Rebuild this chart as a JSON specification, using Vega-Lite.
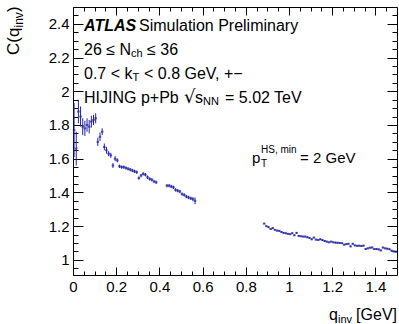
{
  "$schema": "https://vega.github.io/schema/vega-lite/v6.json",
  "width": 324,
  "height": 268,
  "autosize": {"type": "none"},
  "padding": {"left": 73, "top": 7, "right": 2, "bottom": 49},
  "background": "white",
  "datasets": {
    "pts": [
      {"q": 0.005, "c": 1.77, "e": 0.16},
      {"q": 0.015, "c": 1.66, "e": 0.1},
      {"q": 0.025, "c": 1.88, "e": 0.07},
      {"q": 0.035, "c": 1.85, "e": 0.06},
      {"q": 0.045, "c": 1.79, "e": 0.05},
      {"q": 0.055, "c": 1.78, "e": 0.045},
      {"q": 0.065, "c": 1.8, "e": 0.04},
      {"q": 0.075, "c": 1.79, "e": 0.04},
      {"q": 0.085, "c": 1.82, "e": 0.035},
      {"q": 0.095, "c": 1.83, "e": 0.03},
      {"q": 0.105, "c": 1.84, "e": 0.03},
      {"q": 0.115, "c": 1.7, "e": 0.025},
      {"q": 0.125, "c": 1.73, "e": 0.025},
      {"q": 0.135, "c": 1.76, "e": 0.02},
      {"q": 0.145, "c": 1.67, "e": 0.02},
      {"q": 0.155, "c": 1.65, "e": 0.02},
      {"q": 0.165, "c": 1.63, "e": 0.015},
      {"q": 0.175, "c": 1.62, "e": 0.015},
      {"q": 0.185, "c": 1.56, "e": 0.015},
      {"q": 0.195, "c": 1.6, "e": 0.015},
      {"q": 0.205, "c": 1.59, "e": 0.012},
      {"q": 0.215, "c": 1.555, "e": 0.01},
      {"q": 0.225, "c": 1.55, "e": 0.01},
      {"q": 0.235, "c": 1.55, "e": 0.01},
      {"q": 0.245, "c": 1.545, "e": 0.01},
      {"q": 0.255, "c": 1.54, "e": 0.01},
      {"q": 0.265, "c": 1.535, "e": 0.01},
      {"q": 0.275, "c": 1.53, "e": 0.01},
      {"q": 0.285, "c": 1.525, "e": 0.01},
      {"q": 0.295, "c": 1.52, "e": 0.01},
      {"q": 0.305, "c": 1.485, "e": 0.01},
      {"q": 0.315, "c": 1.5, "e": 0.01},
      {"q": 0.325, "c": 1.51, "e": 0.01},
      {"q": 0.335, "c": 1.505, "e": 0.01},
      {"q": 0.345, "c": 1.49, "e": 0.01},
      {"q": 0.355, "c": 1.48, "e": 0.01},
      {"q": 0.365, "c": 1.475, "e": 0.01},
      {"q": 0.375, "c": 1.465, "e": 0.01},
      {"q": 0.385, "c": 1.46, "e": 0.01},
      {"q": 0.435, "c": 1.44, "e": 0.01},
      {"q": 0.445, "c": 1.44, "e": 0.01},
      {"q": 0.455, "c": 1.435, "e": 0.01},
      {"q": 0.465, "c": 1.43, "e": 0.01},
      {"q": 0.475, "c": 1.415, "e": 0.01},
      {"q": 0.485, "c": 1.41, "e": 0.01},
      {"q": 0.495, "c": 1.405, "e": 0.01},
      {"q": 0.505, "c": 1.39, "e": 0.01},
      {"q": 0.515, "c": 1.385, "e": 0.01},
      {"q": 0.525, "c": 1.375, "e": 0.01},
      {"q": 0.535, "c": 1.37, "e": 0.01},
      {"q": 0.545, "c": 1.365, "e": 0.01},
      {"q": 0.555, "c": 1.36, "e": 0.012},
      {"q": 0.565, "c": 1.35, "e": 0.02},
      {"q": 0.885, "c": 1.215, "e": 0.005},
      {"q": 0.895, "c": 1.2, "e": 0.005},
      {"q": 0.905, "c": 1.194, "e": 0.005},
      {"q": 0.915, "c": 1.183, "e": 0.005},
      {"q": 0.925, "c": 1.188, "e": 0.005},
      {"q": 0.935, "c": 1.178, "e": 0.005},
      {"q": 0.945, "c": 1.173, "e": 0.005},
      {"q": 0.955, "c": 1.172, "e": 0.005},
      {"q": 0.965, "c": 1.165, "e": 0.005},
      {"q": 0.975, "c": 1.16, "e": 0.005},
      {"q": 0.985, "c": 1.158, "e": 0.005},
      {"q": 0.995, "c": 1.154, "e": 0.005},
      {"q": 1.005, "c": 1.152, "e": 0.005},
      {"q": 1.015, "c": 1.158, "e": 0.005},
      {"q": 1.025, "c": 1.146, "e": 0.005},
      {"q": 1.035, "c": 1.16, "e": 0.005},
      {"q": 1.045, "c": 1.142, "e": 0.005},
      {"q": 1.055, "c": 1.14, "e": 0.005},
      {"q": 1.065, "c": 1.138, "e": 0.005},
      {"q": 1.075, "c": 1.138, "e": 0.005},
      {"q": 1.085, "c": 1.134, "e": 0.005},
      {"q": 1.095, "c": 1.13, "e": 0.005},
      {"q": 1.105, "c": 1.122, "e": 0.005},
      {"q": 1.115, "c": 1.132, "e": 0.005},
      {"q": 1.125, "c": 1.12, "e": 0.005},
      {"q": 1.135, "c": 1.118, "e": 0.005},
      {"q": 1.145, "c": 1.122, "e": 0.005},
      {"q": 1.155, "c": 1.117, "e": 0.005},
      {"q": 1.165, "c": 1.112, "e": 0.005},
      {"q": 1.175, "c": 1.108, "e": 0.005},
      {"q": 1.185, "c": 1.104, "e": 0.005},
      {"q": 1.195, "c": 1.108, "e": 0.005},
      {"q": 1.205, "c": 1.104, "e": 0.005},
      {"q": 1.215, "c": 1.102, "e": 0.005},
      {"q": 1.225, "c": 1.101, "e": 0.005},
      {"q": 1.235, "c": 1.1, "e": 0.005},
      {"q": 1.245, "c": 1.099, "e": 0.005},
      {"q": 1.255, "c": 1.09, "e": 0.005},
      {"q": 1.265, "c": 1.093, "e": 0.005},
      {"q": 1.275, "c": 1.095, "e": 0.005},
      {"q": 1.285, "c": 1.08, "e": 0.005},
      {"q": 1.295, "c": 1.095, "e": 0.005},
      {"q": 1.305, "c": 1.086, "e": 0.005},
      {"q": 1.315, "c": 1.083, "e": 0.005},
      {"q": 1.325, "c": 1.084, "e": 0.005},
      {"q": 1.335, "c": 1.082, "e": 0.005},
      {"q": 1.345, "c": 1.084, "e": 0.005},
      {"q": 1.355, "c": 1.064, "e": 0.005},
      {"q": 1.365, "c": 1.068, "e": 0.005},
      {"q": 1.375, "c": 1.072, "e": 0.005},
      {"q": 1.385, "c": 1.073, "e": 0.005},
      {"q": 1.395, "c": 1.064, "e": 0.005},
      {"q": 1.405, "c": 1.064, "e": 0.005},
      {"q": 1.415, "c": 1.062, "e": 0.005},
      {"q": 1.425, "c": 1.056, "e": 0.005},
      {"q": 1.435, "c": 1.073, "e": 0.005},
      {"q": 1.445, "c": 1.068, "e": 0.005},
      {"q": 1.455, "c": 1.066, "e": 0.005},
      {"q": 1.465, "c": 1.063, "e": 0.005},
      {"q": 1.475, "c": 1.054, "e": 0.005},
      {"q": 1.485, "c": 1.05, "e": 0.005},
      {"q": 1.495, "c": 1.048, "e": 0.006}
    ]
  },
  "resolve": {"axis": {"x": "independent", "y": "independent"}},
  "layer": [
    {
      "data": {"name": "pts"},
      "mark": {"type": "errorbar", "ticks": false, "color": "#2323a8", "thickness": 1},
      "encoding": {
        "x": {"field": "q", "type": "quantitative", "scale": {"domain": [0, 1.5], "nice": false, "zero": false},
          "axis": {"orient": "bottom", "title": null, "values": [0, 0.2, 0.4, 0.6, 0.8, 1, 1.2, 1.4], "format": "~g", "tickSize": -8, "labelPadding": 12, "labelFlush": false, "domain": false, "grid": false}},
        "y": {"field": "c", "type": "quantitative", "scale": {"domain": [0.91, 2.5], "nice": false, "zero": false},
          "axis": {"orient": "left", "title": null, "values": [1, 1.2, 1.4, 1.6, 1.8, 2, 2.2, 2.4], "format": "~g", "tickSize": -10, "labelPadding": 14, "domain": false, "grid": false}},
        "yError": {"field": "e"}
      }
    },
    {
      "data": {"name": "pts"},
      "mark": {"type": "tick", "orient": "horizontal", "size": 2.6, "thickness": 2, "color": "#2323a8"},
      "encoding": {
        "x": {"field": "q", "type": "quantitative", "axis": null},
        "y": {"field": "c", "type": "quantitative", "axis": null}
      }
    },
    {
      "data": {"values": [{}]},
      "mark": {"type": "text", "text": "ATLAS", "align": "left", "baseline": "middle", "fontSize": 16, "fontWeight": "bold", "fontStyle": "italic", "font": "Liberation Sans", "color": "black"},
      "encoding": {
        "x": {"datum": 0.051, "type": "quantitative", "axis": {"orient": "bottom", "title": null, "values": [0.05, 0.1, 0.15, 0.25, 0.3, 0.35, 0.45, 0.5, 0.55, 0.65, 0.7, 0.75, 0.85, 0.9, 0.95, 1.05, 1.1, 1.15, 1.25, 1.3, 1.35, 1.45], "tickSize": -4, "labels": false, "domain": false, "grid": false}},
        "y": {"datum": 2.387, "type": "quantitative", "axis": {"orient": "left", "title": null, "values": [0.95, 1.05, 1.1, 1.15, 1.25, 1.3, 1.35, 1.45, 1.5, 1.55, 1.65, 1.7, 1.75, 1.85, 1.9, 1.95, 2.05, 2.1, 2.15, 2.25, 2.3, 2.35, 2.45], "tickSize": -5, "labels": false, "domain": false, "grid": false}}
      }
    },
    {
      "data": {"values": [{}]},
      "mark": {"type": "text", "text": "Simulation Preliminary", "align": "left", "baseline": "middle", "fontSize": 16, "font": "Liberation Sans", "color": "black", "dx": 55},
      "encoding": {
        "x": {"datum": 0.051, "type": "quantitative", "axis": {"orient": "top", "title": null, "values": [0, 0.2, 0.4, 0.6, 0.8, 1, 1.2, 1.4], "tickSize": -8, "labels": false, "domain": false, "grid": false}},
        "y": {"datum": 2.387, "type": "quantitative", "axis": {"orient": "right", "title": null, "values": [1, 1.2, 1.4, 1.6, 1.8, 2, 2.2, 2.4], "tickSize": -10, "labels": false, "domain": false, "grid": false}}
      }
    },
    {
      "data": {"values": [{}]},
      "mark": {"type": "text", "text": "26 ≤ N", "align": "left", "baseline": "middle", "fontSize": 16, "font": "Liberation Sans", "color": "black"},
      "encoding": {
        "x": {"datum": 0.051, "type": "quantitative", "axis": {"orient": "top", "title": null, "values": [0.05, 0.1, 0.15, 0.25, 0.3, 0.35, 0.45, 0.5, 0.55, 0.65, 0.7, 0.75, 0.85, 0.9, 0.95, 1.05, 1.1, 1.15, 1.25, 1.3, 1.35, 1.45], "tickSize": -4, "labels": false, "domain": false, "grid": false}},
        "y": {"datum": 2.245, "type": "quantitative", "axis": {"orient": "right", "title": null, "values": [0.95, 1.05, 1.1, 1.15, 1.25, 1.3, 1.35, 1.45, 1.5, 1.55, 1.65, 1.7, 1.75, 1.85, 1.9, 1.95, 2.05, 2.1, 2.15, 2.25, 2.3, 2.35, 2.45], "tickSize": -5, "labels": false, "domain": false, "grid": false}}
      }
    },
    {
      "data": {"values": [{}]},
      "mark": {"type": "text", "text": "ch", "align": "left", "baseline": "middle", "fontSize": 11, "font": "Liberation Sans", "color": "black", "dx": 47, "dy": 4},
      "encoding": {"x": {"datum": 0.051, "type": "quantitative", "axis": null}, "y": {"datum": 2.245, "type": "quantitative", "axis": null}}
    },
    {
      "data": {"values": [{}]},
      "mark": {"type": "text", "text": "≤ 36", "align": "left", "baseline": "middle", "fontSize": 16, "font": "Liberation Sans", "color": "black", "dx": 63},
      "encoding": {"x": {"datum": 0.051, "type": "quantitative", "axis": null}, "y": {"datum": 2.245, "type": "quantitative", "axis": null}}
    },
    {
      "data": {"values": [{}]},
      "mark": {"type": "text", "text": "0.7 < k", "align": "left", "baseline": "middle", "fontSize": 16, "font": "Liberation Sans", "color": "black"},
      "encoding": {"x": {"datum": 0.051, "type": "quantitative", "axis": null}, "y": {"datum": 2.1, "type": "quantitative", "axis": null}}
    },
    {
      "data": {"values": [{}]},
      "mark": {"type": "text", "text": "T", "align": "left", "baseline": "middle", "fontSize": 11, "font": "Liberation Sans", "color": "black", "dx": 48.5, "dy": 4},
      "encoding": {"x": {"datum": 0.051, "type": "quantitative", "axis": null}, "y": {"datum": 2.1, "type": "quantitative", "axis": null}}
    },
    {
      "data": {"values": [{}]},
      "mark": {"type": "text", "text": "< 0.8 GeV, +−", "align": "left", "baseline": "middle", "fontSize": 16, "font": "Liberation Sans", "color": "black", "dx": 60},
      "encoding": {"x": {"datum": 0.051, "type": "quantitative", "axis": null}, "y": {"datum": 2.1, "type": "quantitative", "axis": null}}
    },
    {
      "data": {"values": [{}]},
      "mark": {"type": "text", "text": "HIJING p+Pb", "align": "left", "baseline": "middle", "fontSize": 16, "font": "Liberation Sans", "color": "black"},
      "encoding": {"x": {"datum": 0.051, "type": "quantitative", "axis": null}, "y": {"datum": 1.96, "type": "quantitative", "axis": null}}
    },
    {
      "data": {"values": [{}]},
      "mark": {"type": "text", "text": "√", "align": "left", "baseline": "middle", "fontSize": 18, "font": "DejaVu Sans", "color": "black", "dx": 100},
      "encoding": {"x": {"datum": 0.051, "type": "quantitative", "axis": null}, "y": {"datum": 1.96, "type": "quantitative", "axis": null}}
    },
    {
      "data": {"values": [{}]},
      "mark": {"type": "text", "text": "s", "align": "left", "baseline": "middle", "fontSize": 16, "font": "Liberation Sans", "color": "black", "dx": 111},
      "encoding": {"x": {"datum": 0.051, "type": "quantitative", "axis": null}, "y": {"datum": 1.96, "type": "quantitative", "axis": null}}
    },
    {
      "data": {"values": [{}]},
      "mark": {"type": "text", "text": "NN", "align": "left", "baseline": "middle", "fontSize": 11, "font": "Liberation Sans", "color": "black", "dx": 119, "dy": 4},
      "encoding": {"x": {"datum": 0.051, "type": "quantitative", "axis": null}, "y": {"datum": 1.96, "type": "quantitative", "axis": null}}
    },
    {
      "data": {"values": [{}]},
      "mark": {"type": "text", "text": "= 5.02 TeV", "align": "left", "baseline": "middle", "fontSize": 16, "font": "Liberation Sans", "color": "black", "dx": 141},
      "encoding": {"x": {"datum": 0.051, "type": "quantitative", "axis": null}, "y": {"datum": 1.96, "type": "quantitative", "axis": null}}
    },
    {
      "data": {"values": [{}]},
      "mark": {"type": "text", "text": "p", "align": "left", "baseline": "middle", "fontSize": 15, "font": "Liberation Sans", "color": "black"},
      "encoding": {"x": {"datum": 0.829, "type": "quantitative", "axis": null}, "y": {"datum": 1.604, "type": "quantitative", "axis": null}}
    },
    {
      "data": {"values": [{}]},
      "mark": {"type": "text", "text": "HS, min", "align": "left", "baseline": "middle", "fontSize": 10, "font": "Liberation Sans", "color": "black", "dx": 9, "dy": -8},
      "encoding": {"x": {"datum": 0.829, "type": "quantitative", "axis": null}, "y": {"datum": 1.604, "type": "quantitative", "axis": null}}
    },
    {
      "data": {"values": [{}]},
      "mark": {"type": "text", "text": "T", "align": "left", "baseline": "middle", "fontSize": 10, "font": "Liberation Sans", "color": "black", "dx": 9, "dy": 6},
      "encoding": {"x": {"datum": 0.829, "type": "quantitative", "axis": null}, "y": {"datum": 1.604, "type": "quantitative", "axis": null}}
    },
    {
      "data": {"values": [{}]},
      "mark": {"type": "text", "text": "= 2 GeV", "align": "left", "baseline": "middle", "fontSize": 15, "font": "Liberation Sans", "color": "black", "dx": 48},
      "encoding": {"x": {"datum": 0.829, "type": "quantitative", "axis": null}, "y": {"datum": 1.604, "type": "quantitative", "axis": null}}
    },
    {
      "data": {"values": [{}]},
      "mark": {"type": "text", "text": "[GeV]", "align": "right", "baseline": "middle", "fontSize": 16, "font": "Liberation Sans", "color": "black"},
      "encoding": {"x": {"datum": 1.5, "type": "quantitative", "axis": null}, "y": {"datum": 0.673, "type": "quantitative", "axis": null}}
    },
    {
      "data": {"values": [{}]},
      "mark": {"type": "text", "text": "inv", "align": "right", "baseline": "middle", "fontSize": 11, "font": "Liberation Sans", "color": "black", "dx": -45, "dy": 5},
      "encoding": {"x": {"datum": 1.5, "type": "quantitative", "axis": null}, "y": {"datum": 0.673, "type": "quantitative", "axis": null}}
    },
    {
      "data": {"values": [{}]},
      "mark": {"type": "text", "text": "q", "align": "right", "baseline": "middle", "fontSize": 16, "font": "Liberation Sans", "color": "black", "dx": -59},
      "encoding": {"x": {"datum": 1.5, "type": "quantitative", "axis": null}, "y": {"datum": 0.673, "type": "quantitative", "axis": null}}
    },
    {
      "data": {"values": [{}]},
      "mark": {"type": "text", "text": "C(q", "align": "left", "baseline": "middle", "angle": 270, "fontSize": 17, "font": "Liberation Sans", "color": "black"},
      "encoding": {"x": {"datum": -0.273, "type": "quantitative", "axis": null}, "y": {"datum": 2.215, "type": "quantitative", "axis": null}}
    },
    {
      "data": {"values": [{}]},
      "mark": {"type": "text", "text": "inv", "align": "left", "baseline": "middle", "angle": 270, "fontSize": 12, "font": "Liberation Sans", "color": "black", "dx": 27.5, "dy": 5},
      "encoding": {"x": {"datum": -0.273, "type": "quantitative", "axis": null}, "y": {"datum": 2.215, "type": "quantitative", "axis": null}}
    },
    {
      "data": {"values": [{}]},
      "mark": {"type": "text", "text": ")", "align": "left", "baseline": "middle", "angle": 270, "fontSize": 17, "font": "Liberation Sans", "color": "black", "dx": 43},
      "encoding": {"x": {"datum": -0.273, "type": "quantitative", "axis": null}, "y": {"datum": 2.215, "type": "quantitative", "axis": null}}
    }
  ],
  "config": {
    "view": {"stroke": "black", "strokeWidth": 1},
    "axis": {"grid": false, "domain": false, "tickColor": "black", "tickWidth": 1, "labelColor": "black", "labelFont": "Liberation Sans", "labelFontSize": 15},
    "text": {"color": "black"}
  }
}
